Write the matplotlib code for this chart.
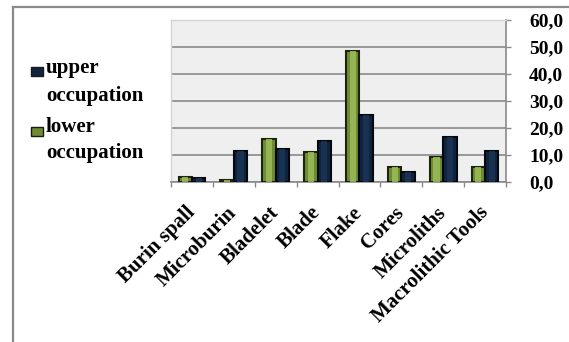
import matplotlib
matplotlib.use("Agg")
import matplotlib.pyplot as plt
from matplotlib.lines import Line2D
from matplotlib.patches import Rectangle
import numpy as np

categories = ["Burin spall", "Microburin", "Bladelet", "Blade", "Flake",
              "Cores", "Microliths", "Macrolithic Tools"]
lower_occupation = [1.9, 0.6, 15.8, 11.0, 48.5, 5.7, 9.1, 5.7]
upper_occupation = [1.6, 11.5, 12.2, 15.1, 24.8, 3.7, 16.7, 11.5]
y_ticks = [0, 10, 20, 30, 40, 50, 60]
y_tick_labels = ["0,0", "10,0", "20,0", "30,0", "40,0", "50,0", "60,0"]

W, H = 569, 342
fig = plt.figure(figsize=(W / 100, H / 100), dpi=100)
fig.patch.set_facecolor("white")

serif = ["Liberation Serif", "DejaVu Serif"]
FS_TICK = 14
FS_TEXT = 15

# outer frame (top and left edges)
fig.add_artist(Line2D([13 / W, 1.0], [1 - 7 / H, 1 - 7 / H], color="#8a8a8a", lw=1.6))
fig.add_artist(Line2D([13 / W, 13 / W], [0, 1 - 7 / H], color="#8a8a8a", lw=1.6))

ax = fig.add_axes([171 / W, 1 - 182 / H, (506 - 171) / W, (182 - 20) / H])
ax.set_facecolor("#efefef")

x = np.arange(len(categories))
bw = 0.32
green_x = x - bw / 2
navy_x = x + bw / 2

ax.bar(green_x, lower_occupation, bw, color="#6f8c34", edgecolor="#1c2410",
       linewidth=1.5, zorder=3)
ax.bar(green_x, lower_occupation, bw * 0.45, color="#9cbd5a", linewidth=0,
       zorder=4, alpha=0.85)
ax.bar(navy_x, upper_occupation, bw, color="#10243e", edgecolor="#05080f",
       linewidth=1.5, zorder=3)
ax.bar(navy_x, upper_occupation, bw * 0.45, color="#1d3656", linewidth=0,
       zorder=4, alpha=0.8)

ax.set_xlim(-0.5, len(categories) - 0.5)
ax.set_ylim(0, 60)

ax.yaxis.tick_right()
ax.set_yticks(y_ticks)
ax.set_yticklabels(y_tick_labels, fontfamily=serif, fontweight="bold", fontsize=FS_TICK)
ax.tick_params(axis="y", length=3.6, width=1, color="#8a8a8a", pad=13)
ax.grid(axis="y", color="#8a8a8a", linewidth=1.2, zorder=1)

ax.set_xticks(np.arange(len(categories) + 1) - 0.5, minor=False)
ax.set_xticklabels([])
ax.tick_params(axis="x", length=3.6, width=1, color="#8a8a8a")
for xi, name in zip(x, categories):
    ax.annotate(name, xy=(xi, 0), xycoords=("data", "axes fraction"),
                xytext=(0, -20), textcoords="offset points",
                rotation=45, rotation_mode="anchor", ha="right", va="center",
                fontfamily=serif, fontweight="bold", fontsize=FS_TEXT)

for side in ["top", "left"]:
    ax.spines[side].set_color("#d4d4d4")
    ax.spines[side].set_linewidth(1)
ax.spines["right"].set_color("#8a8a8a")
ax.spines["right"].set_linewidth(1.2)
ax.spines["bottom"].set_color("#8a8a8a")
ax.spines["bottom"].set_linewidth(1.2)

# legend drawn as markers with two-line bold labels
legend_items = [(("upper", "occupation"), "#10243e", 67, (73.5, 101)),
                (("lower", "occupation"), "#6f8c34", 127, (131.5, 158))]
for words, col, box_top, baselines in legend_items:
    fig.add_artist(Rectangle((31 / W, 1 - (box_top + 9) / H), 12 / W, 9 / H,
                             transform=fig.transFigure, facecolor=col,
                             edgecolor="#1a1a1a", linewidth=1))
    for word, yb in zip(words, baselines):
        fig.text(46 / W, 1 - yb / H, word, ha="left", va="baseline",
                 fontfamily=serif, fontweight="bold", fontsize=FS_TEXT)

fig.savefig("out.png", dpi=100, facecolor="white")
